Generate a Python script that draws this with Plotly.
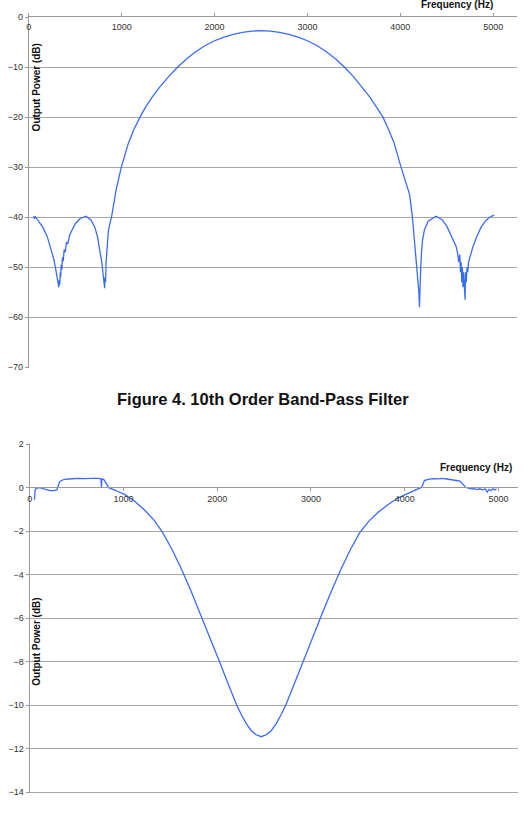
import plotly.graph_objects as go

W, H = 527, 822

# ---------------- Top chart data (10th order band-pass filter) ----------------
top_freq = [50, 60, 70, 100, 150, 200, 240, 270, 290, 305, 315, 322, 328, 333, 338, 343, 348, 355,
            362, 370, 380, 392, 405, 420, 440, 465, 500, 550, 614, 670, 710, 740, 765, 785, 800,
            810, 816, 820, 826, 832, 840, 855, 870, 890, 940, 996, 1070, 1130, 1199, 1260, 1330,
            1400, 1500, 1600, 1700, 1800, 1900, 2000, 2100, 2200, 2300, 2400, 2500, 2600, 2700,
            2800, 2900, 3000, 3100, 3200, 3300, 3400, 3500, 3600, 3670, 3740, 3810, 3870, 3930,
            4000, 4060, 4100, 4130, 4155, 4175, 4190, 4200, 4206, 4210,
            4214, 4220, 4228, 4240, 4260, 4300, 4386, 4450, 4500, 4540, 4570, 4600, 4615, 4630,
            4640, 4648, 4655, 4662, 4668, 4675, 4682, 4690, 4697, 4703, 4710, 4718, 4726, 4735,
            4750, 4780, 4820, 4870, 4920, 4960, 5010]
top_db = [-39.8, -40.3, -39.9, -40.6, -42.0, -44.0, -46.3, -48.5, -50.5, -52.0, -53.5, -54.0, -52.5,
          -53.5, -51.0, -52.0, -49.5, -50.5, -48.0, -48.8, -46.5, -47.0, -45.0, -45.3, -43.5, -42.5,
          -41.3, -40.3, -39.8, -40.6, -42.0, -44.0, -46.5, -49.0, -51.5, -53.0, -54.2, -52.0, -53.0,
          -49.0, -46.0, -43.0, -41.5, -40.0, -34.5, -30.0, -25.3, -22.5, -19.9, -17.9, -15.95,
          -14.2, -12.0, -10.02, -8.32, -6.87, -5.67, -4.72, -4.0, -3.44, -3.04, -2.8, -2.72, -2.8,
          -3.04, -3.44, -4.0, -4.72, -5.67, -6.87, -8.32, -10.02, -12.0, -14.2, -15.95, -17.9,
          -19.9, -22.3, -25.0, -29.5, -33.0, -35.5, -40.0, -45.0, -49.0, -52.0, -55.0, -58.0, -54.0,
          -56.0, -50.0, -47.0, -44.5, -42.5, -40.8, -39.8, -40.5, -41.8, -43.3, -44.5, -45.8, -47.0,
          -49.0, -47.5, -51.0, -49.0, -53.0, -50.0, -54.0, -51.0, -53.0, -56.5, -51.0, -53.0, -50.0,
          -51.0, -49.0, -48.0, -46.0, -44.0, -42.0, -40.7, -40.0, -39.6]

top_xticks = [0, 1000, 2000, 3000, 4000, 5000]
top_yticks = [0, -10, -20, -30, -40, -50, -60, -70]

# ---------------- Bottom chart data ----------------
bot_freq = [45, 52, 58, 70, 90, 110, 140, 180, 220, 260, 290, 305, 320, 340, 370, 420, 470, 520,
            570, 620, 670, 720, 760, 766, 770, 790, 815, 845, 920, 1020, 1120, 1220, 1324, 1420,
            1520, 1620, 1720, 1820, 1920, 2025, 2120, 2209, 2260, 2310, 2360, 2410, 2470, 2530,
            2580, 2630, 2680, 2731, 2820, 2915, 3020, 3120, 3220, 3320, 3420, 3520, 3616, 3720,
            3820, 3920, 4000, 4090, 4172, 4190, 4210, 4250, 4300, 4350, 4400, 4450, 4500, 4550,
            4590, 4620, 4650, 4680, 4710, 4740, 4770, 4800, 4830, 4860, 4880, 4900, 4920, 4940,
            4960, 4980]
bot_db = [-0.5, -0.53, -0.12, -0.03, -0.01, 0.0, -0.04, -0.1, -0.13, -0.13, -0.1, 0.1, 0.27, 0.33,
          0.38, 0.4, 0.42, 0.43, 0.42, 0.44, 0.43, 0.43, 0.42, 0.0, 0.4, 0.38, 0.2, 0.0, -0.13,
          -0.33, -0.62, -1.0, -1.48, -2.07, -2.85, -3.75, -4.74, -5.78, -6.85, -8.0, -9.05, -10.0,
          -10.45, -10.85, -11.15, -11.35, -11.45, -11.35, -11.15, -10.85, -10.45, -10.0, -9.05,
          -8.0, -6.85, -5.78, -4.74, -3.75, -2.85, -2.07, -1.55, -1.12, -0.78, -0.5, -0.33, -0.15,
          0.0, 0.1, 0.33, 0.38, 0.42, 0.41, 0.43, 0.4, 0.38, 0.33, 0.3, 0.15, 0.02, -0.02, -0.05,
          -0.04, -0.09, -0.05, -0.1, -0.06, -0.2, -0.08, -0.14, -0.05, -0.1, -0.05]

bot_xticks = [0, 1000, 2000, 3000, 4000, 5000]
bot_yticks = [2, 0, -2, -4, -6, -8, -10, -12, -14]

# ---------------- helpers (pixel -> paper) ----------------
def px(x):
    return x / W

def py(y):
    return 1 - y / H

FONT = "Liberation Sans, Arial, sans-serif"
LINE = "rgb(58,108,242)"
GRID = "#a6a6a6"
AXIS = "#999999"
TICKF = dict(family=FONT, size=9, color="#333333")

fig = go.Figure()
fig.add_trace(go.Scatter(x=top_freq, y=top_db, mode="lines", xaxis="x", yaxis="y",
                         line=dict(color=LINE, width=1.3), showlegend=False))
fig.add_trace(go.Scatter(x=bot_freq, y=bot_db, mode="lines", xaxis="x2", yaxis="y2",
                         line=dict(color=LINE, width=1.3), showlegend=False))

top_ydom = [py(367), py(12)]
bot_ydom = [py(797), py(443.4)]
bot_range = [-14, 2]
zero_pos = bot_ydom[0] + (0 - bot_range[0]) / (bot_range[1] - bot_range[0]) * (bot_ydom[1] - bot_ydom[0])

fig.update_layout(
    width=W, height=H,
    margin=dict(l=0, r=0, t=0, b=0),
    paper_bgcolor="white", plot_bgcolor="white",
    showlegend=False,
    xaxis=dict(domain=[px(26), px(517)], range=[0, 5257], anchor="y", side="top",
               tickvals=top_xticks, ticklabelposition="inside", ticklabeloverflow="allow",
               ticklabelstandoff=6, showgrid=False,
               showline=True, linecolor=AXIS, linewidth=1, ticks="outside", ticklen=3,
               tickcolor=AXIS, tickfont=TICKF, zeroline=False),
    yaxis=dict(domain=top_ydom, range=[-70.15, 0.05], anchor="x", tickvals=top_yticks,
               showgrid=True, gridcolor=GRID, gridwidth=1, showline=True, linecolor=AXIS,
               ticks="outside", ticklen=3, tickcolor=AXIS, tickfont=TICKF, zeroline=False),
    xaxis2=dict(domain=[px(26.8), px(518)], range=[0, 5209], anchor="free", position=zero_pos,
                tickvals=bot_xticks, showgrid=False, showline=True, linecolor=AXIS,
                ticks="outside", ticklen=3, tickcolor=AXIS, tickfont=TICKF, zeroline=False),
    yaxis2=dict(domain=bot_ydom, range=[-14.05, 2.03], anchor="x2", tickvals=bot_yticks,
                showgrid=True, gridcolor=GRID, gridwidth=1, showline=True, linecolor=AXIS,
                ticks="outside", ticklen=3, tickcolor=AXIS, tickfont=TICKF, zeroline=False),
)

title_font = dict(family=FONT, size=10, color="#111111")
ann = [
    dict(text="<b>Frequency (Hz)</b>", x=px(457), y=py(-1), xanchor="center", yanchor="middle",
         font=title_font),
    dict(text="<b>Output Power (dB)</b>", x=px(33.5), y=py(83), xanchor="center", yanchor="middle",
         textangle=-90, font=title_font),
    dict(text="<b>Figure 4. 10th Order Band-Pass Filter</b>", x=px(261), y=py(398),
         xanchor="center", yanchor="middle", font=dict(family=FONT, size=16.5, color="#111111")),
    dict(text="<b>Frequency (Hz)</b>", x=px(475.6), y=py(468), xanchor="center", yanchor="middle",
         font=title_font),
    dict(text="<b>Output Power (dB)</b>", x=px(34), y=py(644), xanchor="center", yanchor="middle",
         textangle=-90, font=title_font),
]
for a in ann:
    a.update(xref="paper", yref="paper", showarrow=False)
fig.update_layout(annotations=ann)

fig.write_html("out.html")
